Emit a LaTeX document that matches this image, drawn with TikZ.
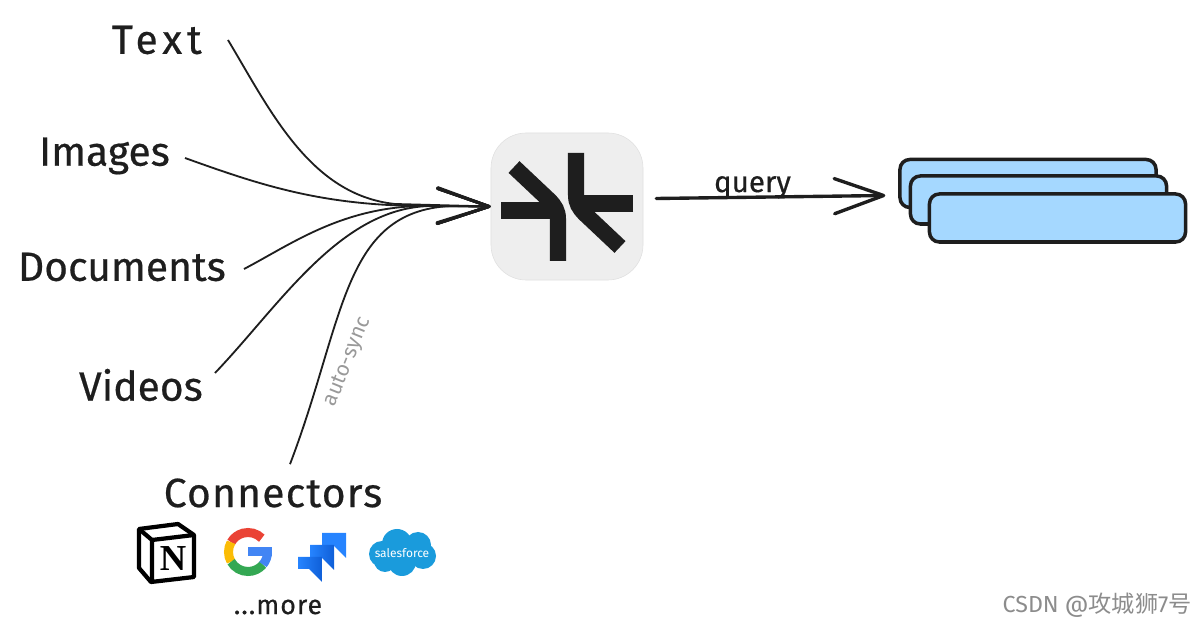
\documentclass[tikz,border=0pt]{standalone}
\usepackage{fontspec}
\setmainfont{Fira Sans}
\newfontfamily\handfont{Fira Sans}[FakeBold=0.5]
\newfontfamily\cjkfont{Noto Sans CJK SC}
\usetikzlibrary{arrows.meta}
\definecolor{inkblack}{HTML}{1E1E1E}
\definecolor{stackblue}{HTML}{A5D8FF}
\definecolor{hubgray}{HTML}{EEEEEE}
\definecolor{jirablue}{HTML}{2684FF}
\definecolor{jiradeep}{HTML}{0F5FD8}
\definecolor{cloudblue}{HTML}{1A9BDC}
\begin{document}
\begin{tikzpicture}[
    x=0.025cm, y=0.025cm,
    itemlabel/.style={text=inkblack, inner sep=0pt, font=\fontsize{29}{29}\selectfont\handfont},
    hubnode/.style={draw=black!12, fill=hubgray, rounded corners=25pt, minimum width=3.8cm, minimum height=3.675cm},
    stackbox/.style={draw=inkblack, line width=2.5pt, fill=stackblue, rounded corners=7pt, minimum width=6.4cm, minimum height=1.2cm},
    feedline/.style={draw=inkblack, line width=1.3pt, -{Straight Barb[round, length=37pt, width=25pt, line width=2pt]}},
    logobar/.style={draw=inkblack, line width=11.4pt},
]
    \useasboundingbox (0,0) rectangle (1196,624);

    % sources
    \node[itemlabel, anchor=east] (text) at (202,584) {\addfontfeature{LetterSpace=12}Text};
    \node[itemlabel, anchor=east] (images) at (170,468) {Images};
    \node[itemlabel, anchor=east] (documents) at (226,357) {Documents};
    \node[itemlabel, anchor=east] (videos) at (203,239) {Videos};
    \node[itemlabel] (connectors) at (273,131) {\addfontfeature{LetterSpace=3}Connectors};
    \node[text=inkblack, font=\fontsize{19}{19}\selectfont\handfont] (more) at (278,17) {\addfontfeature{LetterSpace=4}...more};

    % hub
    \node[hubnode] (hub) at (567,417.5) {};
    \foreach \a in {0,180} {
        \draw[logobar, rotate around={\a:(567,417)}] (514,457) -- (549,424) .. controls (555,418) and (558,413) .. (558,405) -- (558,363);
        \draw[logobar, rotate around={\a:(567,417)}] (501,413.5) -- (556,413.5);
    }

    % stack
    \node[stackbox] (stack1) at (1028,440.5) {};
    \node[stackbox] (stack2) at (1038.5,424) {};
    \node[stackbox] (stack3) at (1057.5,406) {};

    % connectors
    \draw[feedline] (text.east) ++(26,0) .. controls (270,514) and (310,429) .. (395,420) -- (hub.west);
    \draw[feedline] (images.east) ++(15,-2) .. controls (260,439) and (320,419) .. (420,418) -- (hub.west);
    \draw[feedline] (documents.east) ++(18,-2) .. controls (290,379) and (340,416) .. (420,418) -- (hub.west);
    \draw[feedline] (videos.east) ++(12,12) .. controls (280,319) and (340,416) .. (430,418) -- (hub.west);
    \draw[feedline] (connectors.north) ++(17,14) .. controls (345,304) and (342,412) .. (450,418) -- (hub.west);
    \node[text=black!40, rotate=68, font=\fontsize{15}{15}\selectfont] (sync) at (348,262) {auto-sync};

    \draw[draw=inkblack, line width=2.4pt, line cap=round, -{Straight Barb[round, length=35pt, width=25pt, line width=2.4pt]}]
        (hub.east) ++(13,8) -- node[pos=0.42, above=-2pt, text=inkblack, inner sep=0pt, font=\fontsize{21}{21}\selectfont\handfont] (query) {query} ++(229,3);

    % notion
    \draw[draw=black, line width=3pt, fill=white, line join=round] (139,95) -- (178,100) -- (194,89) -- (194,47) -- (151,42) -- (139,56) -- cycle;
    \draw[draw=black, line width=3pt, line join=round] (139,95) -- (152,84) -- (194,89) (152,84) -- (152,42);
    \node[font=\fontsize{26}{26}\selectfont\bfseries\rmfamily, text=black] (notion) at (173,65) {\fontspec{Liberation Serif}N};

    % google
    \foreach \from/\to/\col in {45/150/EA4335, 150/210/FBBC05, 210/320/34A853, 320/360/4285F4} {
        \definecolor{arccol}{HTML}{\col}
        \draw[draw=arccol, line width=6.4pt] (248,72) ++(\from:19.5) arc (\from:\to:19.5);
    }
    \definecolor{barcol}{HTML}{4285F4}
    \draw[draw=barcol, line width=6.4pt] (248,72) -- (272,72);

    % jira
    \fill[jirablue] (322,91) -- (346,91) -- (346,66) -- (333,79) -- (322,79) -- cycle;
    \foreach \n in {1,2} {
        \shade[left color=jirablue, right color=jiradeep, shift={(-12*\n,-12*\n)}] (322,91) -- (346,91) -- (346,66) -- (333,79) -- (322,79) -- cycle;
    }

    % salesforce
    \foreach \cx/\cy/\r in {382/70/13, 397/80/15, 418/79/13, 423/68/13, 402/62/14, 385/63/11} {
        \fill[cloudblue] (\cx,\cy) circle (\r);
    }
    \node[text=white, font=\fontsize{8.5}{8.5}\selectfont] (salesforce) at (402,71) {salesforce};

    % watermark
    \node[anchor=east, inner sep=0pt, text=black!45, font=\fontsize{16.5}{16.5}\selectfont] (mark) at (1192,19) {CSDN @{\cjkfont 攻城狮}7{\cjkfont 号}};
\end{tikzpicture}
\end{document}
